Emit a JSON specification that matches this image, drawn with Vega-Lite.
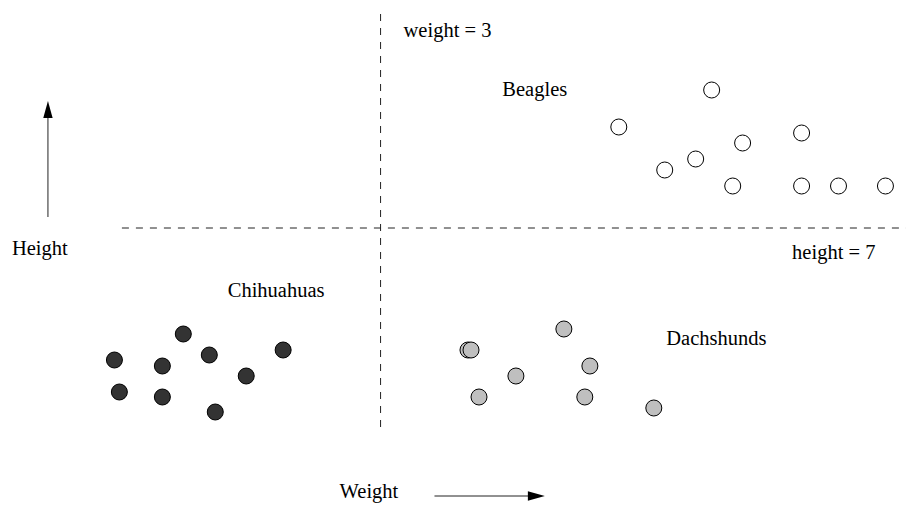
{
  "$schema": "https://vega.github.io/schema/vega-lite/v6.json",
  "width": 907,
  "height": 505,
  "padding": 0,
  "autosize": {"type": "fit", "contains": "padding"},
  "config": {"view": {"stroke": null}},
  "datasets": {
    "dogs": [
      {"breed": "Beagles", "w": 5.61, "h": 10.45},
      {"breed": "Beagles", "w": 4.878, "h": 9.525},
      {"breed": "Beagles", "w": 5.854, "h": 9.125},
      {"breed": "Beagles", "w": 6.319, "h": 9.375},
      {"breed": "Beagles", "w": 5.24, "h": 8.45},
      {"breed": "Beagles", "w": 5.484, "h": 8.725},
      {"breed": "Beagles", "w": 5.776, "h": 8.05},
      {"breed": "Beagles", "w": 6.319, "h": 8.05},
      {"breed": "Beagles", "w": 6.61, "h": 8.05},
      {"breed": "Beagles", "w": 6.98, "h": 8.05},
      {"breed": "Chihuahuas", "w": 1.445, "h": 4.35},
      {"breed": "Chihuahuas", "w": 0.902, "h": 3.7},
      {"breed": "Chihuahuas", "w": 1.28, "h": 3.55},
      {"breed": "Chihuahuas", "w": 1.65, "h": 3.825},
      {"breed": "Chihuahuas", "w": 2.232, "h": 3.95},
      {"breed": "Chihuahuas", "w": 1.941, "h": 3.3},
      {"breed": "Chihuahuas", "w": 0.941, "h": 2.9},
      {"breed": "Chihuahuas", "w": 1.28, "h": 2.775},
      {"breed": "Chihuahuas", "w": 1.697, "h": 2.4},
      {"breed": "Dachshunds", "w": 4.445, "h": 4.475},
      {"breed": "Dachshunds", "w": 3.689, "h": 3.95},
      {"breed": "Dachshunds", "w": 3.713, "h": 3.95},
      {"breed": "Dachshunds", "w": 4.65, "h": 3.55},
      {"breed": "Dachshunds", "w": 4.067, "h": 3.3},
      {"breed": "Dachshunds", "w": 3.776, "h": 2.775},
      {"breed": "Dachshunds", "w": 4.61, "h": 2.775},
      {"breed": "Dachshunds", "w": 5.154, "h": 2.5}
    ],
    "labels": [
      {"label": "weight = 3", "w": 3.181, "h": 11.925},
      {"label": "Beagles", "w": 3.96, "h": 10.45},
      {"label": "height = 7", "w": 6.244, "h": 6.375},
      {"label": "Height", "w": 0.094, "h": 6.475},
      {"label": "Chihuahuas", "w": 1.795, "h": 5.425},
      {"label": "Dachshunds", "w": 5.252, "h": 4.225},
      {"label": "Weight", "w": 2.677, "h": 0.4}
    ]
  },
  "encoding": {
    "x": {"field": "w", "type": "quantitative", "scale": {"domain": [0, 7.142], "nice": false, "zero": false}, "axis": null},
    "y": {"field": "h", "type": "quantitative", "scale": {"domain": [0.075, 12.7], "nice": false, "zero": false}, "axis": null}
  },
  "layer": [
    {
      "data": {"values": [{"w": 3, "h": 2.025, "h2": 12.4}]},
      "mark": {"type": "rule", "stroke": "#222222", "strokeWidth": 1, "strokeDash": [7, 7]},
      "encoding": {"y2": {"field": "h2"}}
    },
    {
      "data": {"values": [{"w": 0.961, "w2": 7.142, "h": 7}]},
      "mark": {"type": "rule", "stroke": "#222222", "strokeWidth": 1, "strokeDash": [7, 7]},
      "encoding": {"x2": {"field": "w2"}}
    },
    {
      "data": {"values": [{"w": 0.378, "h": 7.275, "h2": 9.95}]},
      "mark": {"type": "rule", "stroke": "#222222", "strokeWidth": 1},
      "encoding": {"y2": {"field": "h2"}}
    },
    {
      "data": {"values": [{"w": 3.425, "w2": 4.228, "h": 0.3}]},
      "mark": {"type": "rule", "stroke": "#222222", "strokeWidth": 1},
      "encoding": {"x2": {"field": "w2"}}
    },
    {
      "data": {"values": [{"w": 0.378, "h": 9.9625}]},
      "mark": {"type": "point", "filled": true, "opacity": 1, "fill": "#000000", "strokeWidth": 0, "size": 289, "shape": "M0,-1L0.55,1L-0.55,1Z"}
    },
    {
      "data": {"values": [{"w": 4.228, "h": 0.3}]},
      "mark": {"type": "point", "filled": true, "opacity": 1, "fill": "#000000", "strokeWidth": 0, "size": 289, "shape": "M1,0L-1,0.55L-1,-0.55Z"}
    },
    {
      "data": {"name": "dogs"},
      "mark": {"type": "point", "shape": "circle", "filled": true, "opacity": 1, "size": 256, "stroke": "#000000", "strokeWidth": 1},
      "encoding": {
        "fill": {"field": "breed", "type": "nominal", "scale": {"domain": ["Beagles", "Chihuahuas", "Dachshunds"], "range": ["#ffffff", "#333333", "#bfbfbf"]}, "legend": null}
      }
    },
    {
      "data": {"name": "labels"},
      "mark": {"type": "text", "align": "left", "baseline": "middle", "font": "Liberation Serif", "fontSize": 20.5, "color": "#000000"},
      "encoding": {"text": {"field": "label"}}
    }
  ]
}
